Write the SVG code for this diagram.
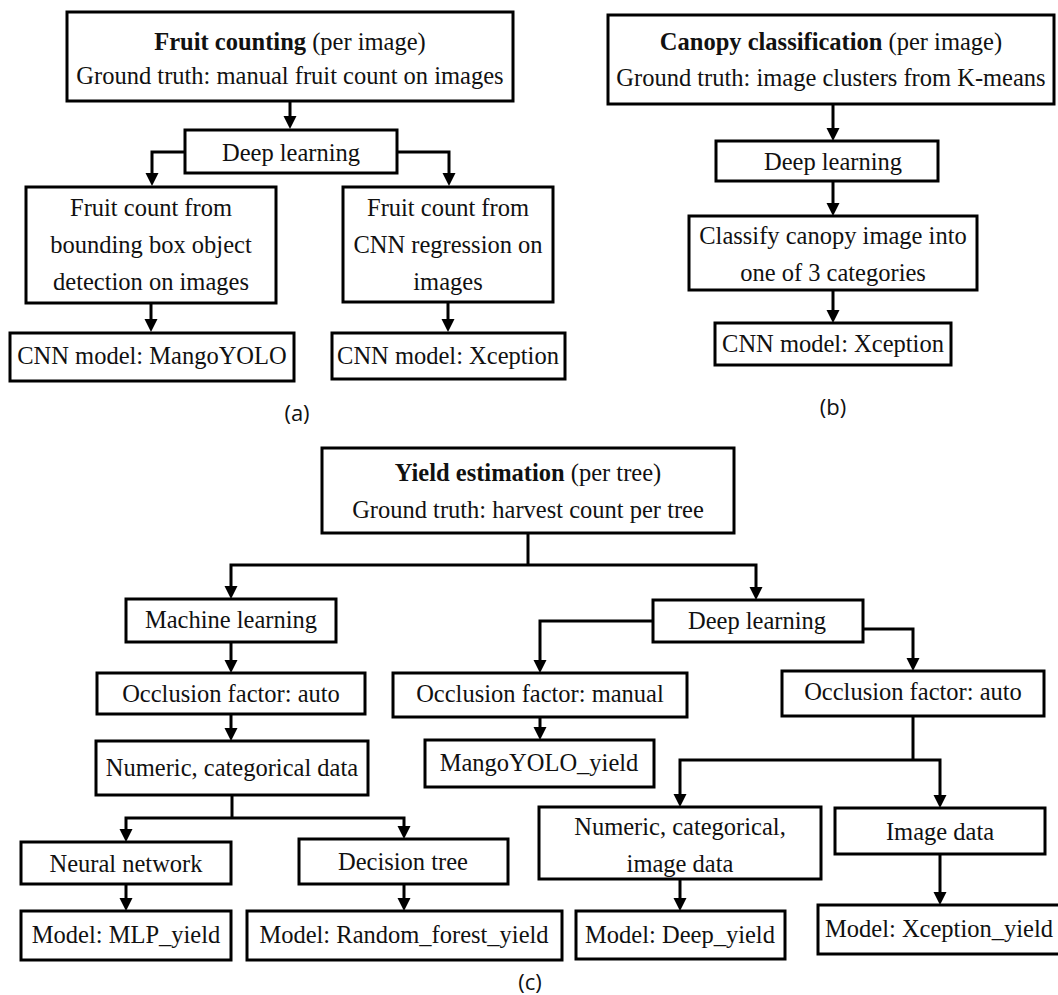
<svg xmlns="http://www.w3.org/2000/svg" width="1058" height="995" viewBox="0 0 1058 995">
<defs>
<marker id="ah" markerUnits="userSpaceOnUse" markerWidth="14" markerHeight="14" refX="9" refY="6.5" orient="auto">
<path d="M0,0 L13,6.5 L0,13 z" fill="#000"/>
</marker>
<style>
.b{fill:#fff;stroke:#000;stroke-width:3}
.t{font-family:"Liberation Serif","Times New Roman",serif;font-size:24.5px;fill:#111;text-anchor:middle}
.bd{font-weight:bold}
.c{fill:none;stroke:#000;stroke-width:3;stroke-linejoin:miter}
.a{marker-end:url(#ah)}
.l{font-family:"Open Sans","Liberation Sans",sans-serif;font-size:22px;fill:#111;text-anchor:middle}
</style>
</defs>
<rect width="1058" height="995" fill="#fff"/>

<g id="connectors">
<line class="c a" x1="290" y1="101" x2="290" y2="125"/>
<polyline class="c a" points="185,152 152,152 152,182"/>
<polyline class="c a" points="397,152 449,152 449,182"/>
<line class="c a" x1="151" y1="303" x2="151" y2="328"/>
<line class="c a" x1="448" y1="302" x2="448" y2="328"/>
<line class="c a" x1="833" y1="104" x2="833" y2="137"/>
<line class="c a" x1="833" y1="181" x2="833" y2="212"/>
<line class="c a" x1="833" y1="290" x2="833" y2="319"/>
<line class="c" x1="528" y1="533" x2="528" y2="565"/>
<polyline class="c a" points="528,565 231,565 231,595"/>
<polyline class="c a" points="528,565 756,565 756,596"/>
<line class="c a" x1="231" y1="642" x2="231" y2="669"/>
<line class="c a" x1="231" y1="714" x2="231" y2="737"/>
<line class="c" x1="232" y1="795" x2="232" y2="818"/>
<polyline class="c a" points="232,818 126,818 126,838"/>
<polyline class="c a" points="232,818 404,818 404,835"/>
<line class="c a" x1="126" y1="884" x2="126" y2="907"/>
<line class="c a" x1="404" y1="884" x2="404" y2="907"/>
<polyline class="c a" points="653,621 540,621 540,669"/>
<polyline class="c a" points="863,629 913,629 913,667"/>
<line class="c a" x1="540" y1="717" x2="540" y2="736"/>
<line class="c" x1="913" y1="716" x2="913" y2="760"/>
<polyline class="c a" points="913,760 680,760 680,803"/>
<polyline class="c a" points="913,760 940,760 940,804"/>
<line class="c a" x1="680" y1="879" x2="680" y2="907"/>
<line class="c a" x1="940" y1="854" x2="940" y2="901"/>
</g>

<g id="n_fruit_counting">
<rect class="b" x="67" y="12" width="446" height="89"/>
<text class="t" x="290" y="50"><tspan class="bd">Fruit counting</tspan> (per image)</text>
<text class="t" x="290" y="84">Ground truth: manual fruit count on images</text>
</g>
<g id="n_dl_a">
<rect class="b" x="185" y="130" width="212" height="43"/>
<text class="t" x="291" y="161">Deep learning</text>
</g>
<g id="n_bbox">
<rect class="b" x="26" y="187" width="250" height="116"/>
<text class="t" x="151" y="216">Fruit count from</text>
<text class="t" x="151" y="253">bounding box object</text>
<text class="t" x="151" y="290">detection on images</text>
</g>
<g id="n_cnnreg">
<rect class="b" x="343" y="187" width="210" height="115"/>
<text class="t" x="448" y="216">Fruit count from</text>
<text class="t" x="448" y="253">CNN regression on</text>
<text class="t" x="448" y="290">images</text>
</g>
<g id="n_mangoyolo">
<rect class="b" x="10" y="333" width="284" height="48"/>
<text class="t" x="152" y="364">CNN model: MangoYOLO</text>
</g>
<g id="n_xception_a">
<rect class="b" x="332" y="333" width="233" height="46"/>
<text class="t" x="448" y="364">CNN model: Xception</text>
</g>
<text class="l" x="297" y="421">(a)</text>

<g id="n_canopy">
<rect class="b" x="608" y="15" width="446" height="89"/>
<text class="t" x="831" y="50"><tspan class="bd">Canopy classification</tspan> (per image)</text>
<text class="t" x="831" y="86">Ground truth: image clusters from K-means</text>
</g>
<g id="n_dl_b">
<rect class="b" x="716" y="141" width="222" height="40"/>
<text class="t" x="833" y="170">Deep learning</text>
</g>
<g id="n_classify">
<rect class="b" x="689" y="216" width="288" height="74"/>
<text class="t" x="833" y="244">Classify canopy image into</text>
<text class="t" x="833" y="281">one of 3 categories</text>
</g>
<g id="n_xception_b">
<rect class="b" x="715" y="323" width="236" height="42"/>
<text class="t" x="833" y="352">CNN model: Xception</text>
</g>
<text class="l" x="833" y="415">(b)</text>

<g id="n_yield">
<rect class="b" x="322" y="448" width="412" height="85"/>
<text class="t" x="528" y="481"><tspan class="bd">Yield estimation</tspan> (per tree)</text>
<text class="t" x="528" y="518">Ground truth: harvest count per tree</text>
</g>
<g id="n_ml">
<rect class="b" x="126" y="599" width="210" height="43"/>
<text class="t" x="231" y="628">Machine learning</text>
</g>
<g id="n_occ_auto1">
<rect class="b" x="97" y="673" width="268" height="41"/>
<text class="t" x="231" y="702">Occlusion factor: auto</text>
</g>
<g id="n_numcat">
<rect class="b" x="96" y="741" width="272" height="54"/>
<text class="t" x="232" y="776">Numeric, categorical data</text>
</g>
<g id="n_nn">
<rect class="b" x="21" y="842" width="210" height="42"/>
<text class="t" x="126" y="872">Neural network</text>
</g>
<g id="n_dt">
<rect class="b" x="299" y="839" width="209" height="45"/>
<text class="t" x="403" y="870">Decision tree</text>
</g>
<g id="n_mlp">
<rect class="b" x="21" y="911" width="210" height="49"/>
<text class="t" x="126" y="943">Model: MLP_yield</text>
</g>
<g id="n_rf">
<rect class="b" x="247" y="911" width="315" height="49"/>
<text class="t" x="404" y="943">Model: Random_forest_yield</text>
</g>
<g id="n_dl_c">
<rect class="b" x="653" y="600" width="210" height="42"/>
<text class="t" x="757" y="629">Deep learning</text>
</g>
<g id="n_occ_manual">
<rect class="b" x="393" y="673" width="294" height="44"/>
<text class="t" x="540" y="702">Occlusion factor: manual</text>
</g>
<g id="n_mangoyolo_yield">
<rect class="b" x="425" y="740" width="229" height="47"/>
<text class="t" x="539" y="771">MangoYOLO_yield</text>
</g>
<g id="n_occ_auto2">
<rect class="b" x="782" y="671" width="262" height="45"/>
<text class="t" x="913" y="700">Occlusion factor: auto</text>
</g>
<g id="n_numcatimg">
<rect class="b" x="539" y="807" width="282" height="72"/>
<text class="t" x="680" y="835">Numeric, categorical,</text>
<text class="t" x="680" y="872">image data</text>
</g>
<g id="n_imgdata">
<rect class="b" x="835" y="808" width="210" height="46"/>
<text class="t" x="940" y="840">Image data</text>
</g>
<g id="n_deep_yield">
<rect class="b" x="576" y="911" width="209" height="48"/>
<text class="t" x="680" y="943">Model: Deep_yield</text>
</g>
<g id="n_xception_yield">
<rect class="b" x="818" y="905" width="245" height="49"/>
<text class="t" x="939" y="937">Model: Xception_yield</text>
</g>
<text class="l" x="530" y="990">(c)</text>
</svg>
